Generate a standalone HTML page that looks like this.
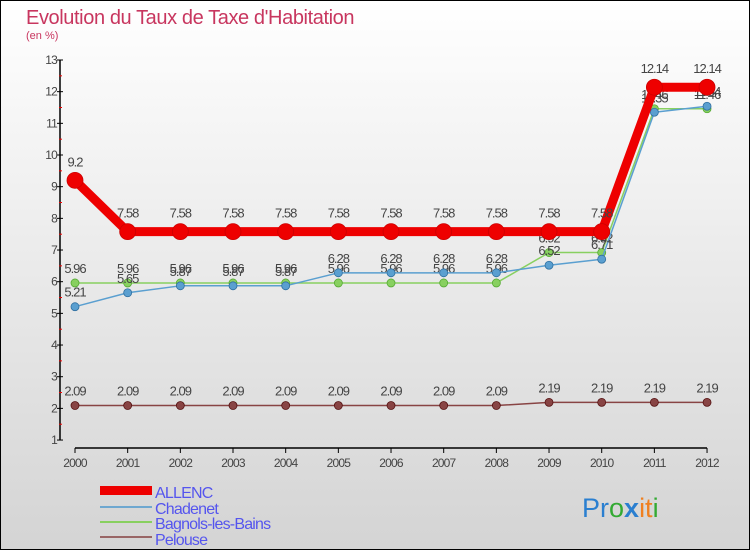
<!DOCTYPE html>
<html><head><meta charset="utf-8"><style>
body{margin:0;}
#c{position:relative;width:750px;height:550px;overflow:hidden;}
svg text{font-family:"Liberation Sans","DejaVu Sans",sans-serif;}
</style></head><body>
<div id="c">
<svg id="s" width="750" height="550" xmlns="http://www.w3.org/2000/svg">
<defs><linearGradient id="bg" x1="0" y1="0" x2="0" y2="1"><stop offset="0" stop-color="#ffffff"/><stop offset="1" stop-color="#d4d4d4"/></linearGradient></defs>
<rect x="0.5" y="0.5" width="749" height="549" fill="url(#bg)" stroke="#000"/>
<text x="26" y="24" font-size="20" fill="#c8365f" letter-spacing="-0.4">Evolution du Taux de Taxe d'Habitation</text>
<text x="26" y="39" font-size="11" fill="#c8365f">(en %)</text>
<g id="axes"></g><g id="series"></g>
<g>
<rect x="100" y="486" width="52" height="9" fill="#e00"/>
<text x="155" y="498" font-size="16" fill="#5555ee" letter-spacing="-0.8">ALLENC</text>
<rect x="100" y="506" width="52" height="2" fill="#6fa8d0"/>
<text x="155" y="514" font-size="16" fill="#5555ee" letter-spacing="-0.8">Chadenet</text>
<rect x="100" y="521" width="52" height="2" fill="#88d060"/>
<text x="155" y="529" font-size="16" fill="#5555ee" letter-spacing="-0.8">Bagnols-les-Bains</text>
<rect x="100" y="536" width="52" height="2" fill="#996666"/>
<text x="155" y="545" font-size="16" fill="#5555ee" letter-spacing="-0.8">Pelouse</text>
</g>
<text x="582" y="517" font-size="27"><tspan fill="#2a7fd0">Pr</tspan><tspan fill="#33aa33">o</tspan><tspan fill="#2a7fd0" font-weight="bold">x</tspan><tspan fill="#f08020">it</tspan><tspan fill="#33aa33">i</tspan></text>
</svg></div>
<script>
const years=[2000,2001,2002,2003,2004,2005,2006,2007,2008,2009,2010,2011,2012];
const allenc=[9.2,7.58,7.58,7.58,7.58,7.58,7.58,7.58,7.58,7.58,7.58,12.14,12.14];
const chadenet=[5.21,5.65,5.87,5.87,5.87,6.28,6.28,6.28,6.28,6.52,6.71,11.35,11.54];
const bagnols=[5.96,5.96,5.96,5.96,5.96,5.96,5.96,5.96,5.96,6.92,6.92,11.46,11.46];
const pelouse=[2.09,2.09,2.09,2.09,2.09,2.09,2.09,2.09,2.09,2.19,2.19,2.19,2.19];
const yTicks=[1,2,3,4,5,6,7,8,9,10,11,12,13];
const NS='http://www.w3.org/2000/svg';
const X=i=>75+i*52.67, Y=v=>60+(13-v)*31.67;
function mk(t,a,p){const e=document.createElementNS(NS,t);for(const k in a)e.setAttribute(k,a[k]);p.appendChild(e);return e;}
const ax=document.getElementById('axes'), sg=document.getElementById('series');
let l=mk('line',{x1:60,y1:60,x2:60,y2:440,stroke:'#000','stroke-width':1.5},ax);


l=mk('line',{x1:75,y1:448,x2:707,y2:448,stroke:'#000','stroke-width':1.5},ax);


yTicks.forEach(v=>{mk('line',{x1:57,y1:Y(v),x2:63,y2:Y(v),stroke:'#000'},ax);
 if(v<13)mk('line',{x1:59,y1:Y(v+0.5),x2:62,y2:Y(v+0.5),stroke:'#e00'},ax);
 const t=mk('text',{x:57,y:Y(v)+4,'font-size':12,fill:'#444','text-anchor':'end','letter-spacing':'-0.8'},ax);t.textContent=v;
 
 });
years.forEach((y,i)=>{mk('line',{x1:X(i),y1:448,x2:X(i),y2:453,stroke:'#000'},ax);
 const t=mk('text',{x:X(i),y:467,'font-size':12,fill:'#444','text-anchor':'middle','letter-spacing':'-0.8'},ax);t.textContent=y;
 
 });
function series(d,name,col,w,r,stroke){
 const g=mk('g',{},sg);
 
 
 mk('polyline',{points:d.map((v,i)=>X(i)+','+Y(v)).join(' '),fill:'none',stroke:col,'stroke-width':w,'stroke-linejoin':'round'},g);
 d.forEach((v,i)=>{const c=mk('circle',{cx:X(i),cy:Y(v),r:r,fill:col,stroke:stroke,'stroke-width':0.8},g);
  
  
  const t=mk('text',{x:X(i),y:Y(v)-10-(r>5?4:0),'font-size':13,fill:'#444','text-anchor':'middle','letter-spacing':'-1'},g);
  t.textContent=v;
  
  });
}
series(pelouse,'pelouse','#884444',1.5,4,'#551111');
series(bagnols,'bagnols','#88d060',1.5,4,'#55aa33');
series(chadenet,'chadenet','#5a9fd0',1.5,4,'#2f6fa0');
series(allenc,'allenc','#ee0000',9,8,'#cc0000');
</script>
</body></html>
